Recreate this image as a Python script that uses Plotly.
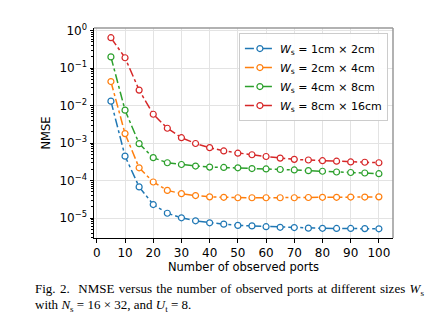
import plotly.graph_objects as go

ports = [5, 10, 15, 20, 25, 30, 35, 40, 45, 50, 55, 60, 65, 70, 75, 80, 85, 90, 95, 100]

nmse_1x2 = [1.32e-2, 4.5e-4, 6.8e-5, 2.3e-5, 1.35e-5, 1.02e-5, 8.5e-6, 7.5e-6, 6.9e-6, 6.4e-6,
            6.2e-6, 5.9e-6, 5.7e-6, 5.6e-6, 5.4e-6, 5.35e-6, 5.3e-6, 5.3e-6, 5.25e-6, 5.2e-6]
nmse_2x4 = [4.4e-2, 1.8e-3, 2.2e-4, 9.2e-5, 5.5e-5, 4.5e-5, 4.0e-5, 3.7e-5, 3.6e-5, 3.5e-5,
            3.5e-5, 3.5e-5, 3.5e-5, 3.5e-5, 3.55e-5, 3.6e-5, 3.6e-5, 3.65e-5, 3.65e-5, 3.7e-5]
nmse_4x8 = [0.2, 7.6e-3, 9.7e-4, 4.1e-4, 3.0e-4, 2.7e-4, 2.45e-4, 2.3e-4, 2.25e-4, 2.2e-4,
            2.1e-4, 2.05e-4, 1.98e-4, 1.93e-4, 1.85e-4, 1.78e-4, 1.7e-4, 1.65e-4, 1.6e-4, 1.53e-4]
nmse_8x16 = [0.65, 0.19, 2.6e-2, 5.9e-3, 2.5e-3, 1.4e-3, 9.8e-4, 7.6e-4, 6.2e-4, 5.4e-4,
             4.9e-4, 4.4e-4, 4.0e-4, 3.7e-4, 3.55e-4, 3.4e-4, 3.3e-4, 3.15e-4, 3.1e-4, 3.0e-4]

series_names = ["<i>W</i><sub>s</sub> = 1cm × 2cm", "<i>W</i><sub>s</sub> = 2cm × 4cm",
                "<i>W</i><sub>s</sub> = 4cm × 8cm", "<i>W</i><sub>s</sub> = 8cm × 16cm"]
series_vals = [nmse_1x2, nmse_2x4, nmse_4x8, nmse_8x16]
colors = ["#1f77b4", "#ff7f0e", "#2ca02c", "#d62728"]

x_ticks = [0, 10, 20, 30, 40, 50, 60, 70, 80, 90, 100]
y_tickvals = [1, 1e-1, 1e-2, 1e-3, 1e-4, 1e-5]
y_ticktext = ["10<sup>0</sup>", "10<sup>−1</sup>", "10<sup>−2</sup>", "10<sup>−3</sup>",
              "10<sup>−4</sup>", "10<sup>−5</sup>"]
y_minor = [m * 10.0 ** e for e in range(-6, 1) for m in range(2, 10)]

# first caption line is justified in the source, so widen its word gaps slightly
caption_1 = ("Fig. 2.  NMSE versus the number of observed ports at different sizes "
             .replace(" ", " \u200a") + "<i>W</i><sub>s</sub>")
caption_2 = "with <i>N</i><sub>s</sub> = 16 × 32, and <i>U</i><sub>t</sub> = 8."

fig = go.Figure()
for name, vals, c in zip(series_names, series_vals, colors):
    fig.add_trace(go.Scatter(
        x=ports, y=vals, name=name, mode="lines+markers",
        line=dict(color=c, width=1.5, dash="dashdot"),
        marker=dict(symbol="circle", size=6, color="white", line=dict(color=c, width=1.2)),
    ))

font = "DejaVu Sans, sans-serif"
serif = "Liberation Serif, Times New Roman, serif"
fig.update_layout(
    width=442, height=330,
    margin=dict(l=94, r=49, t=28, b=92),
    paper_bgcolor="white", plot_bgcolor="white",
    font=dict(family=font, size=12, color="black"),
    showlegend=True,
    legend=dict(x=0.983, y=0.976, xanchor="right", yanchor="top",
                bgcolor="rgba(255,255,255,0.9)", bordercolor="#cccccc", borderwidth=1,
                font=dict(family=font, size=11), tracegroupgap=0,
                itemwidth=30),
    xaxis=dict(range=[-1, 105], tickvals=x_ticks, showgrid=True, gridcolor="#e3e3e3",
               gridwidth=1, zeroline=False, showline=True, linecolor="black", linewidth=1,
               ticks="outside", ticklen=3.5, tickcolor="black",
               title=dict(text="Number of observed ports", standoff=4, font=dict(size=11.5)),
               tickfont=dict(size=12)),
    yaxis=dict(type="log", range=[-5.53, 0.072], tickvals=y_tickvals, ticktext=y_ticktext,
               showgrid=True, gridcolor="#e3e3e3", gridwidth=1, zeroline=False,
               showline=True, linecolor="black", linewidth=1,
               ticks="outside", ticklen=3.5, tickcolor="black",
               minor=dict(tickmode="array", tickvals=y_minor, ticks="outside", ticklen=2,
                          tickcolor="black", showgrid=False),
               title=dict(text="NMSE", standoff=6, font=dict(size=11.5)),
               tickfont=dict(size=12)),
    shapes=[
        dict(type="line", xref="paper", yref="paper", x0=0, x1=1, y0=1, y1=1,
             line=dict(color="#999999", width=1.5)),
        dict(type="line", xref="paper", yref="paper", x0=1, x1=1, y0=0, y1=1,
             line=dict(color="#999999", width=1.5)),
    ],
    annotations=[
        dict(xref="paper", yref="paper", x=-0.205, y=-0.245, xanchor="left", yanchor="middle",
             align="left", showarrow=False,
             font=dict(family=serif, size=13, color="black"), text=caption_1),
        dict(xref="paper", yref="paper", x=-0.205, y=-0.322, xanchor="left", yanchor="middle",
             align="left", showarrow=False,
             font=dict(family=serif, size=13, color="black"), text=caption_2),
    ],
)

fig.write_html("out.html")
